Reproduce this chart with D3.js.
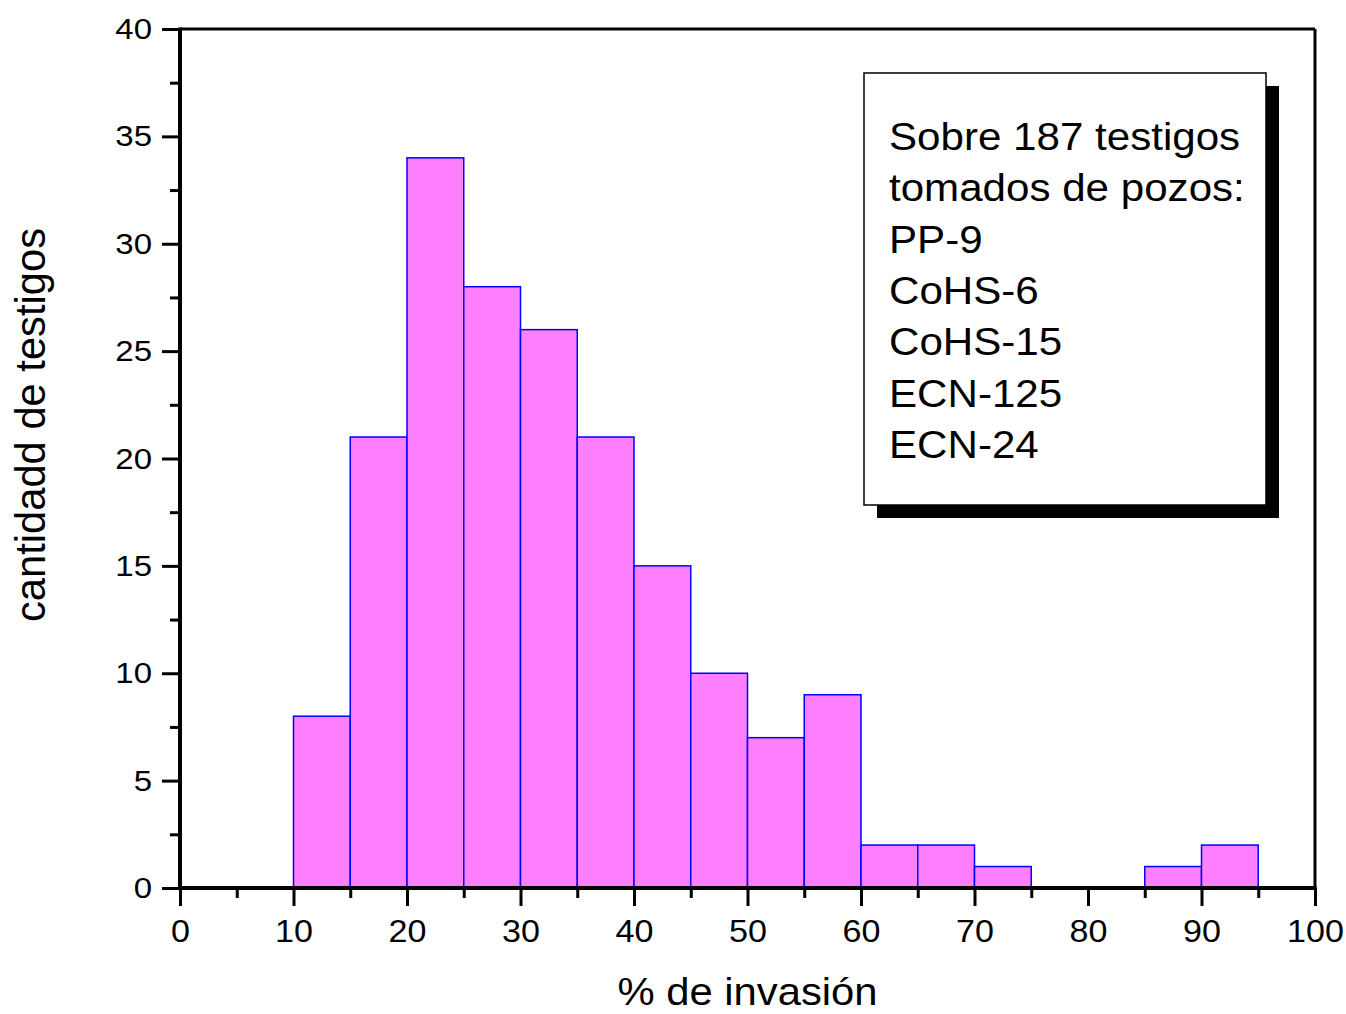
<!DOCTYPE html>
<html><head><meta charset="utf-8">
<script src="https://cdn.jsdelivr.net/npm/d3@7"></script>
<style>body{margin:0;background:#fff}svg{display:block}text{font-family:"Liberation Sans",Arial,sans-serif}</style>
</head><body><svg id="c" width="1346" height="1014"></svg>
<script>
const binStarts = [0,5,10,15,20,25,30,35,40,45,50,55,60,65,70,75,80,85,90];
const counts    = [0,0,8,21,34,28,26,21,15,10,7,9,2,2,1,0,0,1,2];
const binWidth = 5;
const xTicks = [0,10,20,30,40,50,60,70,80,90,100];
const yTicks = [0,5,10,15,20,25,30,35,40];
const legendLines = ["Sobre 187 testigos","tomados de pozos:","PP-9","CoHS-6","CoHS-15","ECN-125","ECN-24"];

const svg = d3.select("#c");
const L=180, R=1315, T=29, B=888;
const SX = 1.1; // horizontal text stretch seen in reference
const x = d3.scaleLinear().domain([0,100]).range([L,R]);
const y = d3.scaleLinear().domain([0,40]).range([B,T]);

// bars
svg.append("g").selectAll("rect").data(binStarts.map((s,i)=>({s,c:counts[i]})).filter(d=>d.c>0))
 .join("rect")
 .attr("x",d=>x(d.s)).attr("width",d=>x(d.s+binWidth)-x(d.s))
 .attr("y",d=>y(d.c)).attr("height",d=>y(0)-y(d.c))
 .attr("fill","#ff80ff").attr("stroke","#0000ff").attr("stroke-width",1.5);

// frame
svg.append("line").attr("x1",L).attr("x2",R).attr("y1",T).attr("y2",T).attr("stroke","#000").attr("stroke-width",3);
svg.append("line").attr("x1",R).attr("x2",R).attr("y1",T).attr("y2",B).attr("stroke","#000").attr("stroke-width",3);

// x axis
const gx = svg.append("g").attr("transform",`translate(0,${B})`)
  .call(d3.axisBottom(x).tickValues(xTicks).tickSize(18).tickPadding(14).tickFormat(d3.format("d")));
gx.select(".domain").remove();
gx.selectAll(".tick line").attr("stroke","#000").attr("stroke-width",3);
gx.selectAll("text").attr("font-size",31).attr("fill","#000").attr("font-family","Liberation Sans, Arial, sans-serif")
  .attr("transform",`scale(${SX},1)`);
const gxm = svg.append("g").attr("transform",`translate(0,${B})`).call(d3.axisBottom(x).tickValues(d3.range(5,100,10)).tickSize(10).tickFormat(""));
gxm.select(".domain").remove();
gxm.selectAll(".tick line").attr("stroke","#000").attr("stroke-width",3);
svg.append("line").attr("x1",L-1.5).attr("x2",R+1.5).attr("y1",B).attr("y2",B).attr("stroke","#000").attr("stroke-width",4);

// y axis
const gy = svg.append("g").attr("transform",`translate(${L},0)`)
  .call(d3.axisLeft(y).tickValues(yTicks).tickSize(18).tickPadding(11).tickFormat(d3.format("d")));
gy.select(".domain").remove();
gy.selectAll(".tick line").attr("stroke","#000").attr("stroke-width",3);
gy.selectAll("text").attr("font-size",30).attr("fill","#000").attr("font-family","Liberation Sans, Arial, sans-serif")
  .attr("x",-28/SX).attr("transform",`scale(${SX},1)`);
const gym = svg.append("g").attr("transform",`translate(${L},0)`).call(d3.axisLeft(y).tickValues(d3.range(2.5,40,5)).tickSize(10).tickFormat(""));
gym.select(".domain").remove();
gym.selectAll(".tick line").attr("stroke","#000").attr("stroke-width",3);
svg.append("line").attr("x1",L).attr("x2",L).attr("y1",T-1.5).attr("y2",B+2).attr("stroke","#000").attr("stroke-width",4);

// axis titles
svg.append("text").attr("transform",`translate(${(L+R)/2},1005) scale(${SX},1)`).attr("text-anchor","middle").attr("font-size",38).text("% de invasión");
svg.append("text").attr("transform","translate(45,425) rotate(-90)").attr("text-anchor","middle").attr("font-size",41.7).text("cantidadd de testigos");

// legend box
svg.append("rect").attr("x",877).attr("y",86).attr("width",402).attr("height",432).attr("fill","#000");
svg.append("rect").attr("x",864).attr("y",73).attr("width",402).attr("height",432).attr("fill","#fff").attr("stroke","#000").attr("stroke-width",1.5);
svg.append("g").selectAll("text").data(legendLines).join("text")
 .attr("transform",(d,i)=>`translate(889,${150+i*51.3}) scale(1.08,1)`)
 .attr("font-size",39).attr("fill","#000").text(d=>d);
</script></body></html>
